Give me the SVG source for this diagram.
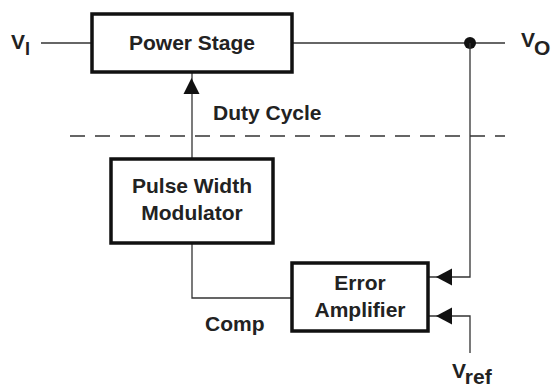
<svg xmlns="http://www.w3.org/2000/svg" width="553" height="388" viewBox="0 0 553 388">
<style>
.box{fill:#fff;stroke:#111;stroke-width:3.5}
.ln{fill:none;stroke:#333;stroke-width:1.3}
.t{font-family:"Liberation Sans",Arial,sans-serif;font-weight:bold;font-size:21px;fill:#222;text-anchor:middle}
.l{font-family:"Liberation Sans",Arial,sans-serif;font-weight:bold;font-size:21px;fill:#222}
.ah{fill:#111}
</style>
<rect width="553" height="388" fill="#fff"/>
<g id="connectors">
<line class="ln" x1="41" y1="43" x2="92" y2="43"/>
<line class="ln" x1="292" y1="43" x2="505" y2="43"/>
<circle cx="470" cy="43" r="6" fill="#111"/>
<polyline class="ln" points="470,43 470,277 428,277"/>
<polygon class="ah" points="436,277 452,268.5 452,285.5"/>
<polyline class="ln" points="470,353 470,316 428,316"/>
<polygon class="ah" points="436,316 452,307.5 452,324.5"/>
<line class="ln" x1="192" y1="158" x2="192" y2="72"/>
<polygon class="ah" points="191.5,78 183.5,94 199.5,94"/>
<polyline class="ln" points="192,243 192,298 292,298"/>
<line class="ln" x1="70" y1="136" x2="505" y2="136" stroke-dasharray="15,10"/>
</g>
<g id="power-stage">
<rect class="box" x="92" y="14" width="200" height="58"/>
<text class="t" x="192" y="50">Power Stage</text>
</g>
<g id="pwm">
<rect class="box" x="111" y="159" width="162" height="84"/>
<text class="t" x="192" y="193">Pulse Width</text>
<text class="t" x="192" y="220">Modulator</text>
</g>
<g id="error-amplifier">
<rect class="box" x="292" y="263" width="136" height="68"/>
<text class="t" x="360" y="290">Error</text>
<text class="t" x="360" y="317">Amplifier</text>
</g>
<g id="labels">
<text class="l" x="11" y="48.5">V<tspan font-size="18" dy="6.5">I</tspan></text>
<text class="l" x="521" y="47">V<tspan dx="-1" dy="8">O</tspan></text>
<text class="l" x="452" y="378">V<tspan dy="6">ref</tspan></text>
<text class="l" x="213" y="120">Duty Cycle</text>
<text class="l" x="205" y="331">Comp</text>
</g>
</svg>
